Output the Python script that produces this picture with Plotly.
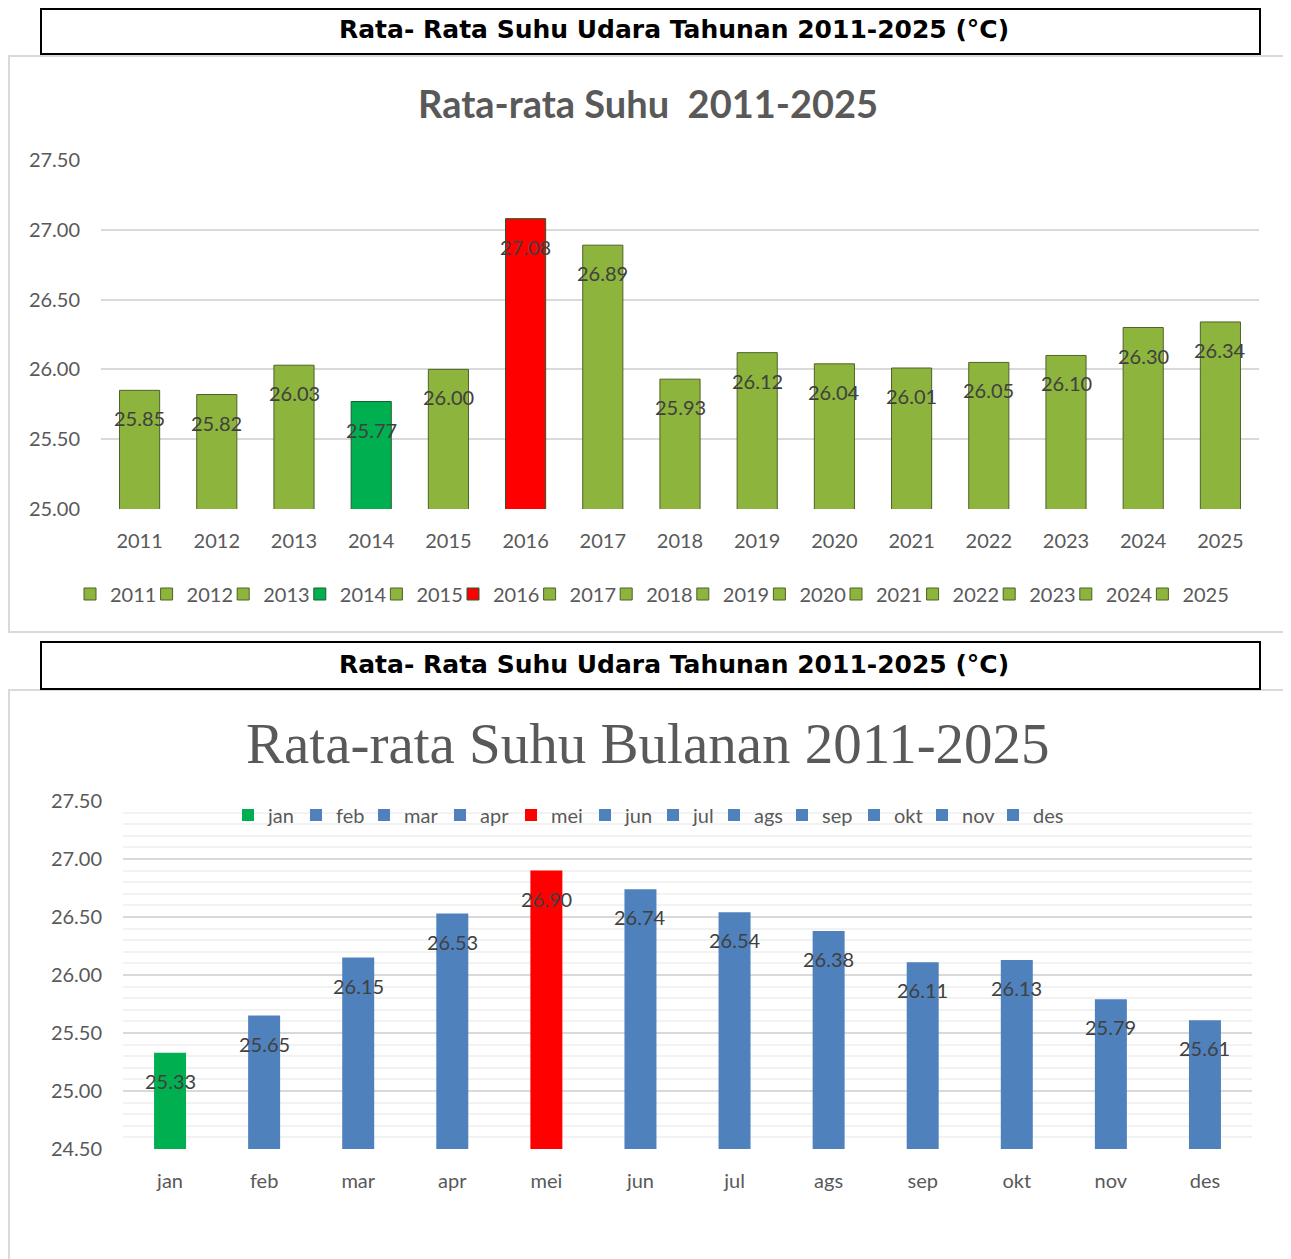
import plotly.graph_objects as go

# page is shifted by the default 8px body margin, so draw on a slightly smaller canvas
OFF = 8
W, H = 1291 - OFF, 1259 - OFF

# --- data ---
years = [str(y) for y in range(2011, 2026)]
suhu_tahunan = [25.85, 25.82, 26.03, 25.77, 26.00, 27.08, 26.89, 25.93,
                26.12, 26.04, 26.01, 26.05, 26.10, 26.30, 26.34]
warna_tahunan = {"2014": "#00B050", "2016": "#FF0000"}

bulan = ["jan", "feb", "mar", "apr", "mei", "jun", "jul", "ags",
         "sep", "okt", "nov", "des"]
suhu_bulanan = [25.33, 25.65, 26.15, 26.53, 26.90, 26.74, 26.54, 26.38,
                26.11, 26.13, 25.79, 25.61]
warna_bulanan = {"jan": "#00B050", "mei": "#FF0000"}

judul_kotak = "Rata- Rata Suhu Udara Tahunan 2011-2025 (°C)"

# legend swatch positions (px, left of each entry), like the Excel layout
leg_top_x = [70 + i * 76.6 for i in range(len(years))]
leg_bot_x = [228, 296, 364, 440, 511, 585, 653, 714, 782, 854, 922, 993]


def px_x(x):
    return (x - OFF) / W


def px_y(y):
    return 1 - (y - OFF) / H


fig = go.Figure()
layout_legends = {}
tick_font = dict(family="Lato, sans-serif", size=20, color="#595959")

# top chart: one trace (and one legend entry) per year
for i, (yr, val) in enumerate(zip(years, suhu_tahunan)):
    lg = f"legend{i + 2}"
    fig.add_trace(go.Bar(
        x=[yr], y=[val], name=yr, width=0.52,
        marker=dict(color=warna_tahunan.get(yr, "#8DB43C"),
                    line=dict(color="#4F6228" if yr not in warna_tahunan else "#1E5E2E", width=1)),
        xaxis="x", yaxis="y", legend=lg, hoverinfo="x+y",
    ))
    layout_legends[lg] = dict(orientation="h", x=px_x(leg_top_x[i]), xanchor="left",
                              y=px_y(594), yanchor="middle", font=tick_font,
                              bgcolor="rgba(0,0,0,0)", itemwidth=30)

# bottom chart: one trace per month
for i, (bl, val) in enumerate(zip(bulan, suhu_bulanan)):
    lg = f"legend{i + 2 + len(years)}"
    fig.add_trace(go.Bar(
        x=[bl], y=[val], name=bl, width=0.34,
        marker=dict(color=warna_bulanan.get(bl, "#4F81BD"), line=dict(width=0)),
        xaxis="x2", yaxis="y2", legend=lg, hoverinfo="x+y",
    ))
    layout_legends[lg] = dict(orientation="h", x=px_x(leg_bot_x[i]), xanchor="left",
                              y=px_y(815), yanchor="middle", font=tick_font,
                              bgcolor="rgba(0,0,0,0)", itemwidth=30)

label_font = dict(family="Lato, sans-serif", size=20, color="#404040")
annotations = []
for i, val in enumerate(suhu_tahunan):
    annotations.append(dict(x=i, y=val, xref="x", yref="y", text=f"{val:.2f}",
                            showarrow=False, yshift=-28, font=label_font))
for i, val in enumerate(suhu_bulanan):
    annotations.append(dict(x=i, y=val, xref="x2", yref="y2", text=f"{val:.2f}",
                            showarrow=False, yshift=-28, font=label_font))

# header boxes + titles
for ty in (30, 665):
    annotations.append(dict(x=px_x(674), y=px_y(ty), xref="paper", yref="paper",
                            xanchor="center", yanchor="middle",
                            text=f"<b>{judul_kotak}</b>", showarrow=False,
                            font=dict(family="DejaVu Sans, sans-serif", size=25, color="#000000")))
annotations.append(dict(x=px_x(648), y=px_y(103), xref="paper", yref="paper",
                        xanchor="center", yanchor="middle",
                        text="<b>Rata-rata Suhu  2011-2025</b>", showarrow=False,
                        font=dict(family="Lato, sans-serif", size=38, color="#595959")))
annotations.append(dict(x=px_x(648), y=px_y(743), xref="paper", yref="paper",
                        xanchor="center", yanchor="middle",
                        text="Rata-rata Suhu Bulanan 2011-2025", showarrow=False,
                        font=dict(family="Liberation Serif, serif", size=57, color="#595959")))

shapes = [
    dict(type="rect", xref="paper", yref="paper", x0=px_x(9), x1=px_x(1288),
         y0=px_y(632), y1=px_y(56), line=dict(color="#D9D9D9", width=2)),
    dict(type="rect", xref="paper", yref="paper", x0=px_x(9), x1=px_x(1288),
         y0=px_y(1262), y1=px_y(690), line=dict(color="#D9D9D9", width=2)),
    dict(type="rect", xref="paper", yref="paper", x0=px_x(41), x1=px_x(1260),
         y0=px_y(54), y1=px_y(9), line=dict(color="#000000", width=2)),
    dict(type="rect", xref="paper", yref="paper", x0=px_x(41), x1=px_x(1260),
         y0=px_y(689), y1=px_y(642), line=dict(color="#000000", width=2)),
]

fig.update_layout(
    width=W, height=H,
    margin=dict(l=0, r=0, t=0, b=0, autoexpand=False),
    paper_bgcolor="white", plot_bgcolor="white",
    barmode="overlay",
    showlegend=True,
    annotations=annotations,
    shapes=shapes,
    xaxis=dict(domain=[px_x(101), px_x(1259)], anchor="y", type="category",
               categoryorder="array", categoryarray=years, range=[-0.5, len(years) - 0.5],
               showgrid=False, tickfont=tick_font, ticklabelstandoff=18, showline=False),
    yaxis=dict(domain=[px_y(509), px_y(160)], anchor="x", range=[25, 27.5],
               dtick=0.5, tickformat=".2f", showgrid=True, gridcolor="#D9D9D9",
               gridwidth=2, zeroline=False, tickfont=tick_font, ticklabelstandoff=20),
    xaxis2=dict(domain=[px_x(123), px_x(1252)], anchor="y2", type="category",
                categoryorder="array", categoryarray=bulan, range=[-0.5, len(bulan) - 0.5],
                showgrid=False, tickfont=tick_font, ticklabelstandoff=18, showline=False),
    yaxis2=dict(domain=[px_y(1149), px_y(801)], anchor="x2", range=[24.5, 27.5],
                dtick=0.5, tickformat=".2f", showgrid=True, gridcolor="#D9D9D9",
                gridwidth=2, zeroline=False, tickfont=tick_font, ticklabelstandoff=20,
                minor=dict(dtick=0.1, showgrid=True, gridcolor="#F2F2F2", gridwidth=2)),
    **layout_legends,
)

fig.write_html("out.html")
